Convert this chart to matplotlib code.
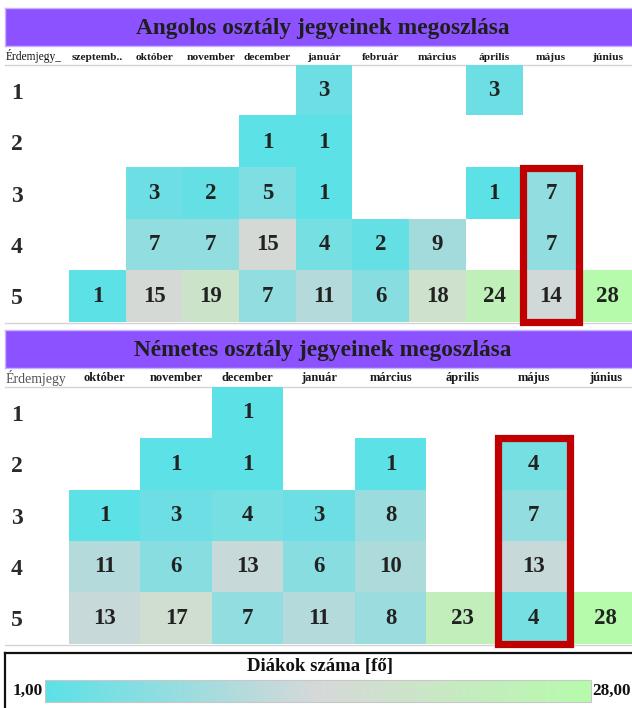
import matplotlib
matplotlib.use("Agg")
import matplotlib.pyplot as plt
import numpy as np
from matplotlib.colors import LinearSegmentedColormap, Normalize
from matplotlib.patches import Rectangle
from matplotlib.lines import Line2D
from matplotlib.cm import ScalarMappable

plt.rcParams['font.family'] = ['Liberation Serif', 'DejaVu Serif']

W, H = 632, 708

grades = ['1', '2', '3', '4', '5']

# Angolos osztaly: rows = grade 1..5, columns = months (None = no student)
en_months = ['szeptemb..', 'október', 'november', 'december', 'január',
             'február', 'március', 'április', 'május', 'június']
en_g1 = [None, None, None, None, 3, None, None, 3, None, None]
en_g2 = [None, None, None, 1, 1, None, None, None, None, None]
en_g3 = [None, 3, 2, 5, 1, None, None, 1, 7, None]
en_g4 = [None, 7, 7, 15, 4, 2, 9, None, 7, None]
en_g5 = [1, 15, 19, 7, 11, 6, 18, 24, 14, 28]

# Nemetes osztaly
de_months = ['október', 'november', 'december', 'január',
             'március', 'április', 'május', 'június']
de_g1 = [None, None, 1, None, None, None, None, None]
de_g2 = [None, 1, 1, None, 1, None, 4, None]
de_g3 = [1, 3, 4, 3, 8, None, 7, None]
de_g4 = [11, 6, 13, 6, 10, None, 13, None]
de_g5 = [13, 17, 7, 11, 8, 23, 4, 28]

vmin, vmax = 1, 28
cmap = LinearSegmentedColormap.from_list(
    'diak', [(0.0, '#5ce1e6'), (0.5, '#d6d8d8'), (1.0, '#b6fbab')])
cmap.set_bad((1, 1, 1, 0))
norm = Normalize(vmin=vmin, vmax=vmax)

fig = plt.figure(figsize=(W / 100, H / 100), dpi=100)


def px_rect(x0, y0, x1, y1):
    return [x0 / W, 1 - y1 / H, (x1 - x0) / W, (y1 - y0) / H]


def hline(y, x0, x1, color, lw=1.0):
    fig.add_artist(Line2D([x0 / W, x1 / W], [1 - y / H, 1 - y / H],
                          transform=fig.transFigure, color=color, lw=lw,
                          zorder=-1))


def title_bar(box, text):
    ax = fig.add_axes(px_rect(*box))
    ax.set_facecolor('#8c52ff')
    ax.set_xticks([])
    ax.set_yticks([])
    for s in ax.spines.values():
        s.set_color('#c9b3ff')
        s.set_linewidth(1.0)
    ax.text(0.5, 0.45, text, transform=ax.transAxes, ha='center', va='center',
            fontsize=16.8, fontweight='bold', color='#1e1e1e')


def heatmap(box, rows, months, head_size, corner, corner_kw, hl_col, hl_rows):
    data = np.array([[np.nan if v is None else v for v in r] for r in rows],
                    dtype=float)
    ax = fig.add_axes(px_rect(*box))
    ax.patch.set_alpha(0)
    ax.imshow(np.ma.masked_invalid(data), cmap=cmap, norm=norm,
              aspect='auto', interpolation='nearest')
    for i in range(data.shape[0]):
        for j in range(data.shape[1]):
            if not np.isnan(data[i, j]):
                ax.text(j, i, f'{int(data[i, j])}', ha='center', va='center',
                        fontsize=16.5, fontweight='bold', color='#222222')
    ax.set_xlim(-0.5, data.shape[1] - 0.5)
    ax.set_ylim(data.shape[0] - 0.5, -0.5)
    ax.xaxis.tick_top()
    ax.set_xticks(range(len(months)))
    ax.set_xticklabels(months, fontsize=head_size, fontweight='bold',
                       color='#1a1a1a')
    ax.set_yticks(range(len(grades)))
    ax.set_yticklabels(grades, fontsize=17, fontweight='bold', color='#2a2a2a',
                       ha='left')
    ax.tick_params(length=0)
    ax.tick_params(axis='x', pad=2.5)
    ax.tick_params(axis='y', pad=(box[0] - 11) * 72 / 100)
    for s in ax.spines.values():
        s.set_visible(False)
    ax.text(-(box[0] - 6) / (box[2] - box[0]), 1.0 + 9 / (box[3] - box[1]),
            corner, transform=ax.transAxes, ha='left', va='center',
            **corner_kw)
    # highlighted month
    r0, r1 = hl_rows
    ax.add_patch(Rectangle((hl_col - 0.5, r0 - 0.5), 1, r1 - r0 + 1,
                           fill=False, edgecolor='#c00000', lw=5.2,
                           clip_on=False, zorder=5))
    return ax


# Angolos osztaly
title_bar((5, 8, 640, 46), 'Angolos osztály jegyeinek megoszlása')
heatmap((69, 65, 636, 322), [en_g1, en_g2, en_g3, en_g4, en_g5], en_months,
        8.2, 'Érdemjegy_', dict(fontsize=8.3, color='#111111'),
        en_months.index('május'), (2, 4))
hline(65, 5, 632, '#d4d4d4')
hline(322.5, 5, 632, '#d4d4d4')

# Nemetes osztaly
title_bar((5, 330, 640, 368), 'Németes osztály jegyeinek megoszlása')
heatmap((69, 387, 641, 644), [de_g1, de_g2, de_g3, de_g4, de_g5], de_months,
        9.0, 'Érdemjegy', dict(fontsize=10, color='#555555'),
        de_months.index('május'), (1, 4))
hline(387, 5, 632, '#d4d4d4')
hline(644.5, 5, 632, '#d4d4d4')

# colour legend
box = fig.add_axes(px_rect(5, 653, 640, 712))
box.set_xticks([])
box.set_yticks([])
for s in box.spines.values():
    s.set_color('#111111')
    s.set_linewidth(1.6)
box.text((320 - 5) / 635, 1 - (666 - 653) / 59, 'Diákok száma [fő]',
         transform=box.transAxes, ha='center', va='center', fontsize=13.5,
         fontweight='bold', color='#111111')

cax = fig.add_axes(px_rect(45, 680, 591, 702))
cb = fig.colorbar(ScalarMappable(norm=norm, cmap=cmap), cax=cax,
                  orientation='horizontal')
cb.set_ticks([])
cb.outline.set_edgecolor('#c8c8c8')
cb.outline.set_linewidth(0.8)
cax.text(-0.004, 0.5, f'{vmin:.2f}'.replace('.', ','), transform=cax.transAxes,
         ha='right', va='center', fontsize=12.5, fontweight='bold',
         color='#111111')
cax.text(1.003, 0.5, f'{vmax:.2f}'.replace('.', ','), transform=cax.transAxes,
         ha='left', va='center', fontsize=12.3, fontweight='bold',
         color='#111111', clip_on=False)

fig.savefig('out.png', dpi=100)
